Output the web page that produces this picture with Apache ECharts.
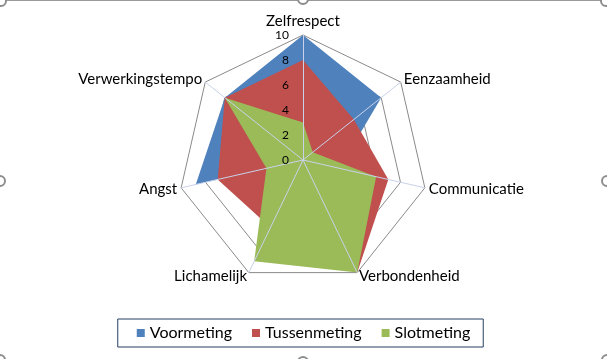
<!DOCTYPE html>
<html><head><meta charset="utf-8">
<script src="https://cdn.jsdelivr.net/npm/echarts@6/dist/echarts.min.js"></script>
<style>html,body{margin:0;padding:0;background:#fff}#c{width:607px;height:359px}</style>
</head><body><div id="c"></div>
<script>
const categories = ['Zelfrespect','Eenzaamheid','Communicatie','Verbondenheid','Lichamelijk','Angst','Verwerkingstempo'];
const voormeting = [10, 8, 3, 10, 0, 8.8, 8];
const tussenmeting = [8, 5.2, 7, 10, 6, 7, 8];
const slotmeting = [3, 1, 6, 10, 9, 3, 8];
const seriesNames = ['Voormeting','Tussenmeting','Slotmeting'];
const seriesColors = ['#4F81BD','#C0504D','#9BBB59'];
const maxValue = 10;
const tickStep = 2;

// ECharts places indicators counter-clockwise; reorder so they run clockwise
const order = [0].concat(categories.slice(1).map((_, i) => categories.length - 1 - i));
const font = 'Lato, "Open Sans", sans-serif';
const indicators = order.map((idx, k) => {
  const ind = { name: categories[idx], max: maxValue, min: 0 };
  if (k === 0) { ind.nameGap = 6; }
  return ind;
});
const indicatorsOverlay = order.map((idx, k) => {
  const ind = { name: categories[idx], max: maxValue, min: 0 };
  if (k === 0) { ind.axisLabel = { show: true }; }
  return ind;
});
const seriesData = [voormeting, tussenmeting, slotmeting];

const radarBase = {
  center: [303, 160], radius: 125, startAngle: 90, shape: 'polygon',
  splitNumber: maxValue / tickStep
};

const chart = echarts.init(document.getElementById('c'), null, { renderer: 'canvas' });
chart.setOption({
  animation: false,
  backgroundColor: '#fff',
  legend: {
    data: seriesNames, left: 'center', top: 319, icon: 'rect',
    itemWidth: 8, itemHeight: 8, itemGap: 20,
    borderColor: '#243f60', borderWidth: 1, padding: [6, 13, 6, 19],
    textStyle: { fontFamily: font, fontSize: 16, color: '#000' }
  },
  radar: [
    Object.assign({}, radarBase, {
      indicator: indicators, nameGap: 4,
      axisName: { color: '#000', fontFamily: font, fontSize: 15 },
      splitLine: { lineStyle: { color: '#8a8a8a', width: 1 } },
      splitArea: { show: false },
      axisLine: { show: false },
      axisTick: { show: false },
      axisLabel: { show: false },
      z: 1
    }),
    Object.assign({}, radarBase, {
      indicator: indicatorsOverlay, axisName: { show: false },
      splitLine: { show: false }, splitArea: { show: false },
      axisLine: { lineStyle: { color: '#c9d2ea', width: 1 } },
      axisTick: { show: false },
      axisLabel: { show: false, color: '#000', fontFamily: font, fontSize: 12, margin: 14 },
      z: 10
    })
  ],
  series: [{
    type: 'radar', radarIndex: 0, symbol: 'none', z: 2,
    data: seriesData.map((vals, i) => ({
      name: seriesNames[i],
      value: order.map(idx => vals[idx]),
      itemStyle: { color: seriesColors[i] },
      lineStyle: { width: 0, color: seriesColors[i] },
      areaStyle: { color: seriesColors[i], opacity: 1 }
    }))
  }],
  graphic: [
    { type: 'line', shape: { x1: 4, y1: 0.5, x2: 603, y2: 0.5 }, style: { stroke: '#9a9a9a', lineWidth: 1 }, silent: true },
    ...[[1, 1], [303, -1], [606, 1], [0, 181], [607, 181], [0, 360], [303, 362], [607, 360]].map(p => ({
      type: 'circle', shape: { cx: p[0], cy: p[1], r: 5 },
      style: { fill: '#fff', stroke: '#8d8d8d', lineWidth: 2 }, silent: true, z: 100
    }))
  ]
});
</script></body></html>
